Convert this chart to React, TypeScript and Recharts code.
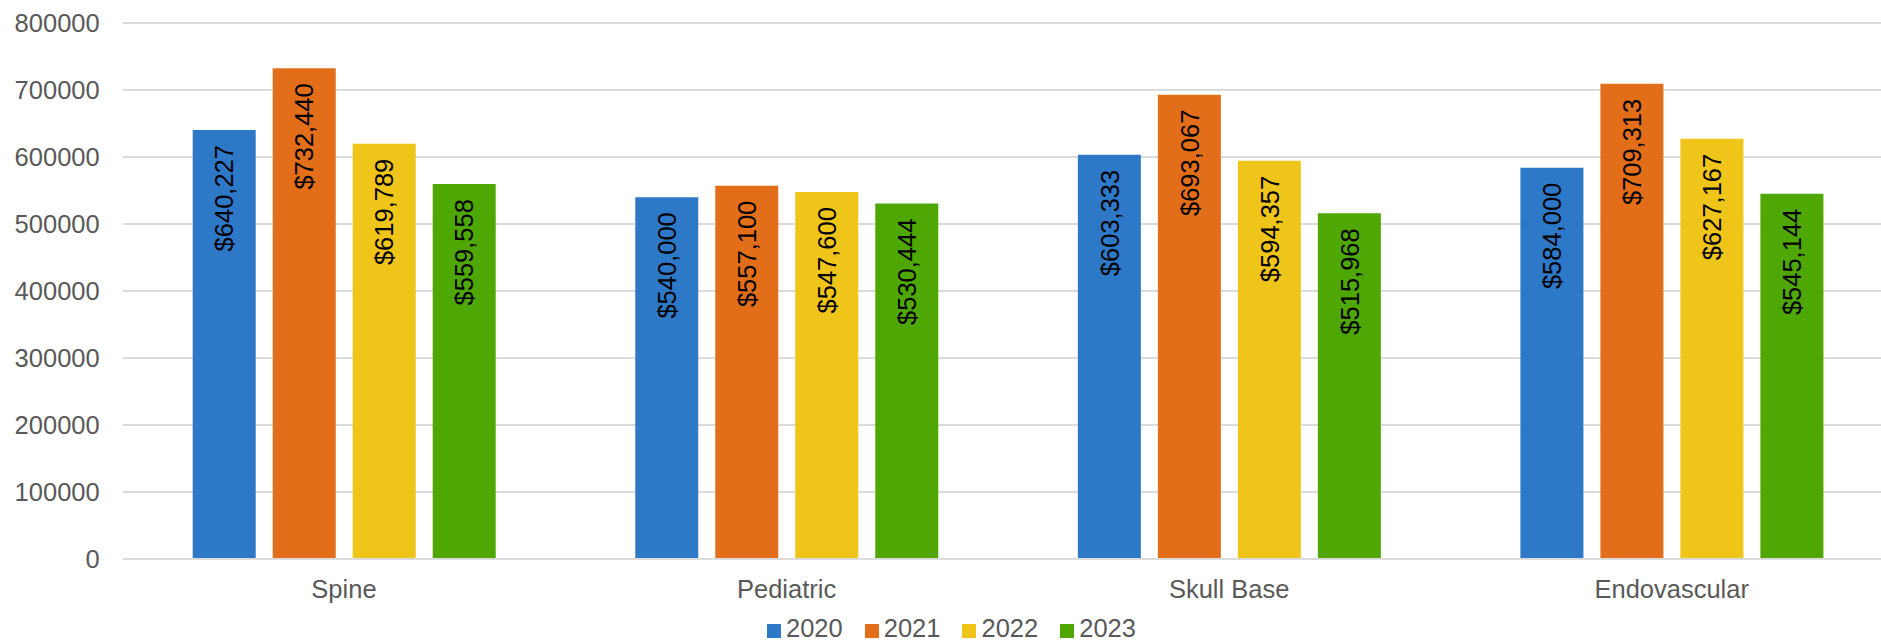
import React from 'react'
import { BarChart, Bar, XAxis, YAxis, CartesianGrid, Legend, LabelList } from 'recharts'

const categories = ['Spine', 'Pediatric', 'Skull Base', 'Endovascular']
const years = ['2020', '2021', '2022', '2023']
const values2020 = [640227, 540000, 603333, 584000]
const values2021 = [732440, 557100, 693067, 709313]
const values2022 = [619789, 547600, 594357, 627167]
const values2023 = [559558, 530444, 515968, 545144]
const yTicks = [0, 100000, 200000, 300000, 400000, 500000, 600000, 700000, 800000]

const COLORS = ['#2E78C8', '#E26E19', '#F0C519', '#4EA702']
const FONT = '"Liberation Sans", Arial, sans-serif'
const TEXT = '#595959'

const data = categories.map((name, i) => ({
  name,
  '2020': values2020[i],
  '2021': values2021[i],
  '2022': values2022[i],
  '2023': values2023[i],
}))

const renderLabel = (props: any) => {
  const { x, y, width, value } = props
  const cx = Number(x) + Number(width) / 2
  const top = Number(y) + 15
  return (
    <text
      transform={`translate(${cx}, ${top}) rotate(-90)`}
      textAnchor="end"
      dy="0.36em"
      fontSize={25.5}
      fontFamily={FONT}
      fill="#000"
    >
      {'$' + Number(value).toLocaleString('en-US')}
    </text>
  )
}

const renderLegend = (props: any) => {
  const { payload } = props
  return (
    <div style={{ display: 'flex', fontFamily: FONT, fontSize: 25.5, lineHeight: 1, color: TEXT }}>
      {(payload || []).map((entry: any, i: number) => (
        <div key={i} style={{ display: 'flex', alignItems: 'flex-start', marginRight: 22 }}>
          <div style={{ width: 14, height: 14, background: entry.color, marginTop: 8, marginRight: 5 }} />
          <span>{entry.value}</span>
        </div>
      ))}
    </div>
  )
}

export default function App() {
  return (
    <div style={{ position: 'fixed', left: 0, top: 0, width: 1881, height: 642, overflow: 'hidden', background: '#fff' }}>
      <BarChart
        width={1895}
        height={642}
        data={data}
        margin={{ top: 23, right: 2, bottom: 0, left: 0 }}
        barCategoryGap={70}
        barGap={17}
      >
        <CartesianGrid vertical={false} stroke="#dcdcdc" strokeWidth={2} />
        <XAxis
          dataKey="name"
          height={83}
          axisLine={{ stroke: '#dcdcdc', strokeWidth: 2 }}
          tickLine={false}
          tickSize={0}
          tickMargin={21}
          tick={{ fill: TEXT, fontSize: 25.5, fontFamily: FONT }}
        />
        <YAxis
          width={122.7}
          domain={[0, 800000]}
          ticks={yTicks}
          axisLine={false}
          tickLine={false}
          tickSize={0}
          tickMargin={23}
          tick={{ fill: TEXT, fontSize: 25.5, fontFamily: FONT }}
        />
        <Legend
          content={renderLegend}
          wrapperStyle={{ position: 'absolute', left: 767, top: 616, bottom: 'auto', width: 'auto', height: 0, overflow: 'visible' }}
        />
        {years.map((yr, i) => (
          <Bar key={yr} dataKey={yr} fill={COLORS[i]} isAnimationActive={false}>
            <LabelList dataKey={yr} content={renderLabel} />
          </Bar>
        ))}
      </BarChart>
    </div>
  )
}
